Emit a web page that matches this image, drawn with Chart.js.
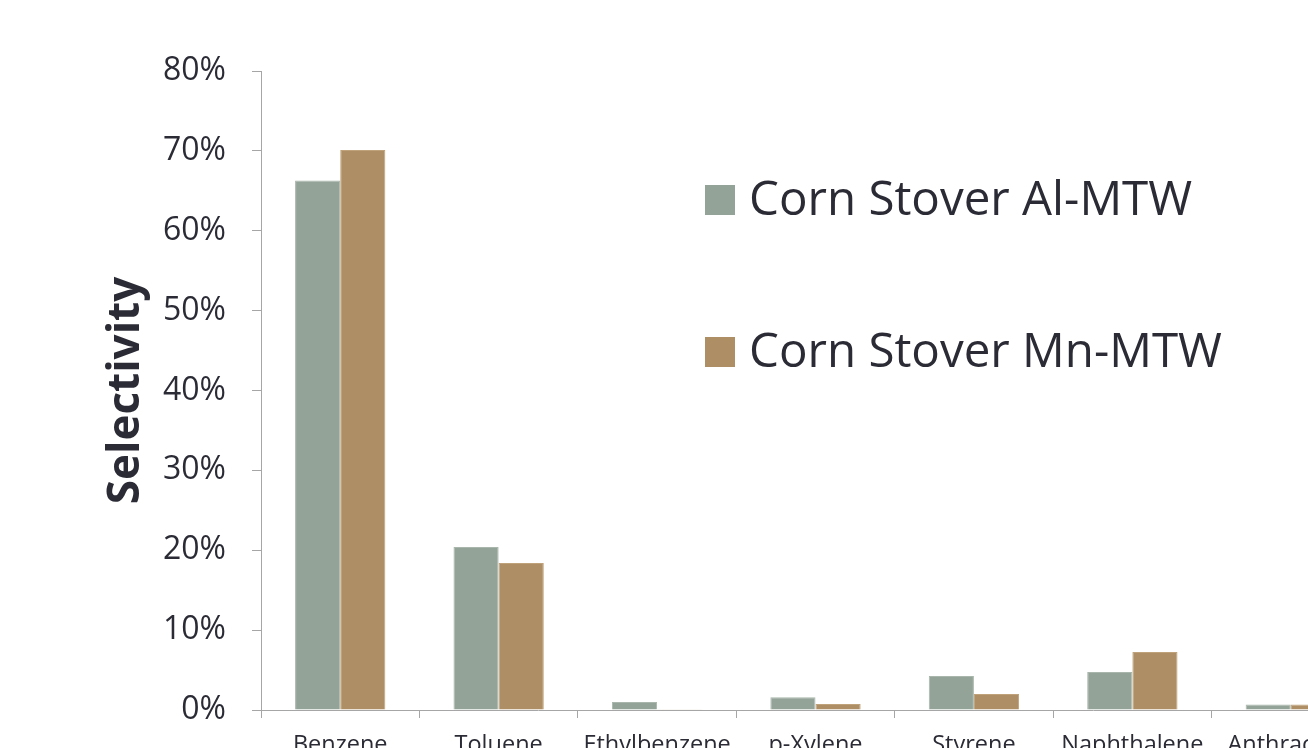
<!DOCTYPE html>
<html>
<head>
<meta charset="utf-8">
<script src="https://cdn.jsdelivr.net/npm/chart.js@4/dist/chart.umd.min.js"></script>
<style>
  html, body { margin: 0; padding: 0; background: #fff; overflow: hidden; }
  #wrap { width: 1372px; height: 800px; }
</style>
</head>
<body>
<div id="wrap"><canvas id="chart" width="1372" height="800"></canvas></div>
<script>
const categories = ['Benzene', 'Toluene', 'Ethylbenzene', 'p-Xylene', 'Styrene', 'Naphthalene', 'Anthracene'];
const alMtw = [66.3, 20.4, 1.0, 1.6, 4.25, 4.75, 0.7];
const mnMtw = [70.1, 18.4, 0.1, 0.75, 2.0, 7.25, 0.7];
const yTicks = [0, 10, 20, 30, 40, 50, 60, 70, 80];

const textColor = '#2b2b36';
const axisColor = '#a6a6a6';
const fontFam = '"Open Sans", Lato, sans-serif';

// legend drawn inside the plot, like the original
const legendPlugin = {
    id: 'sideLegend',
    afterDraw(chart) {
        const ctx = chart.ctx;
        const rows = [200, 352];
        ctx.save();
        ctx.font = '47.5px ' + fontFam;
        ctx.textBaseline = 'middle';
        chart.data.datasets.forEach((ds, i) => {
            ctx.fillStyle = ds.backgroundColor;
            ctx.fillRect(705, rows[i] - 15, 30, 30);
            ctx.fillStyle = textColor;
            ctx.fillText(ds.label, 749, rows[i] + 1);
        });
        ctx.restore();
    }
};

function makeChart(ctx) {
    const data = {
        labels: categories,
        datasets: [{
            label: 'Corn Stover Al-MTW',
            data: alMtw,
            backgroundColor: '#94a398',
            borderColor: '#a9b6ac',
            borderWidth: 1
        }, {
            label: 'Corn Stover Mn-MTW',
            data: mnMtw,
            backgroundColor: '#ae8e64',
            borderColor: '#c0a27a',
            borderWidth: 1
        }]
    };
    const cfg = {
        type: 'bar',
        data: data,
        plugins: [legendPlugin],
        options: {
            responsive: false,
            animation: false,
            devicePixelRatio: 1,
            layout: { padding: { top: 71, left: 0, right: 2, bottom: 0 } },
            categoryPercentage: 0.57,
            barPercentage: 1.0,
            plugins: {
                legend: { display: false },
                tooltip: { enabled: false }
            },
            scales: {
                x: {
                    afterFit: (s) => { s.height = 90; },
                    grid: {
                        offset: true,
                        drawOnChartArea: false,
                        drawTicks: true,
                        tickLength: 8,
                        color: axisColor
                    },
                    border: { color: axisColor, width: 1 },
                    ticks: {
                        color: textColor,
                        font: { size: 23.5, family: fontFam },
                        padding: 13,
                        maxRotation: 0,
                        autoSkip: false
                    }
                },
                y: {
                    min: 0,
                    max: 80,
                    afterFit: (s) => { s.width = 261; },
                    afterBuildTicks: (s) => { s.ticks = yTicks.map(v => ({ value: v })); },
                    grid: {
                        drawOnChartArea: false,
                        drawTicks: true,
                        tickLength: 9,
                        color: axisColor
                    },
                    border: { color: axisColor, width: 1 },
                    ticks: {
                        color: textColor,
                        font: { size: 32, family: fontFam },
                        padding: 26,
                        callback: (v) => v + '%'
                    },
                    title: {
                        display: true,
                        text: 'Selectivity',
                        color: textColor,
                        font: { size: 44, weight: 'bold', family: fontFam },
                        padding: { top: 100, bottom: 0 }
                    }
                }
            }
        }
    };
    return new Chart(ctx, cfg);
}

const chart_obj = makeChart(document.getElementById('chart'));
</script>
</body>
</html>
